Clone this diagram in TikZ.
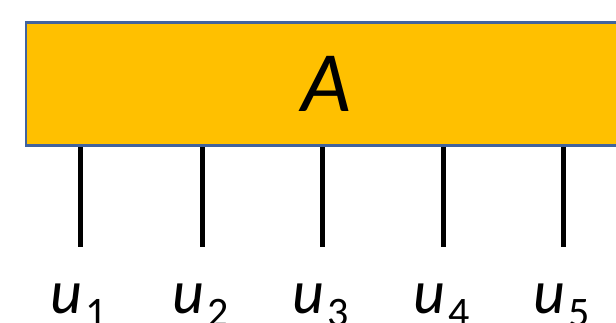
\documentclass[tikz,border=0pt]{standalone}
\usepackage{fontspec}
\setmainfont{Carlito}
\definecolor{boxfill}{HTML}{FFC000}
\definecolor{boxline}{HTML}{41639E}
\newcommand{\ulabel}[1]{\fontsize{62}{62}\selectfont\itshape u\hspace{3pt}\raisebox{-13pt}{\upshape\fontsize{42}{42}\selectfont #1}}
\begin{document}
\begin{tikzpicture}[x=1pt,y=-1pt,
  tensor/.style={draw=boxline, fill=boxfill, line width=2.8pt, inner sep=0pt,
    minimum width=600pt, minimum height=123pt,
    font=\fontsize{86}{86}\selectfont\itshape},
  leg/.style={line width=5pt, black},
  leglabel/.style={anchor=base, inner sep=0pt}]
  \useasboundingbox (0,0) rectangle (616,323);
  \clip (0,0) rectangle (616,323);
  % the tensor block
  \node[tensor] (A) at (326,84) {A};
  % open legs and their index labels
  \foreach \i/\x in {1/80, 2/202, 3/322, 4/443, 5/563} {
    \coordinate (t\i) at (\x,247);
    \draw[leg] (t\i |- A.south) -- (t\i);
    \node[leglabel] (u\i) at (\x-1,313) {\ulabel{\i}};
  }
\end{tikzpicture}
\end{document}
